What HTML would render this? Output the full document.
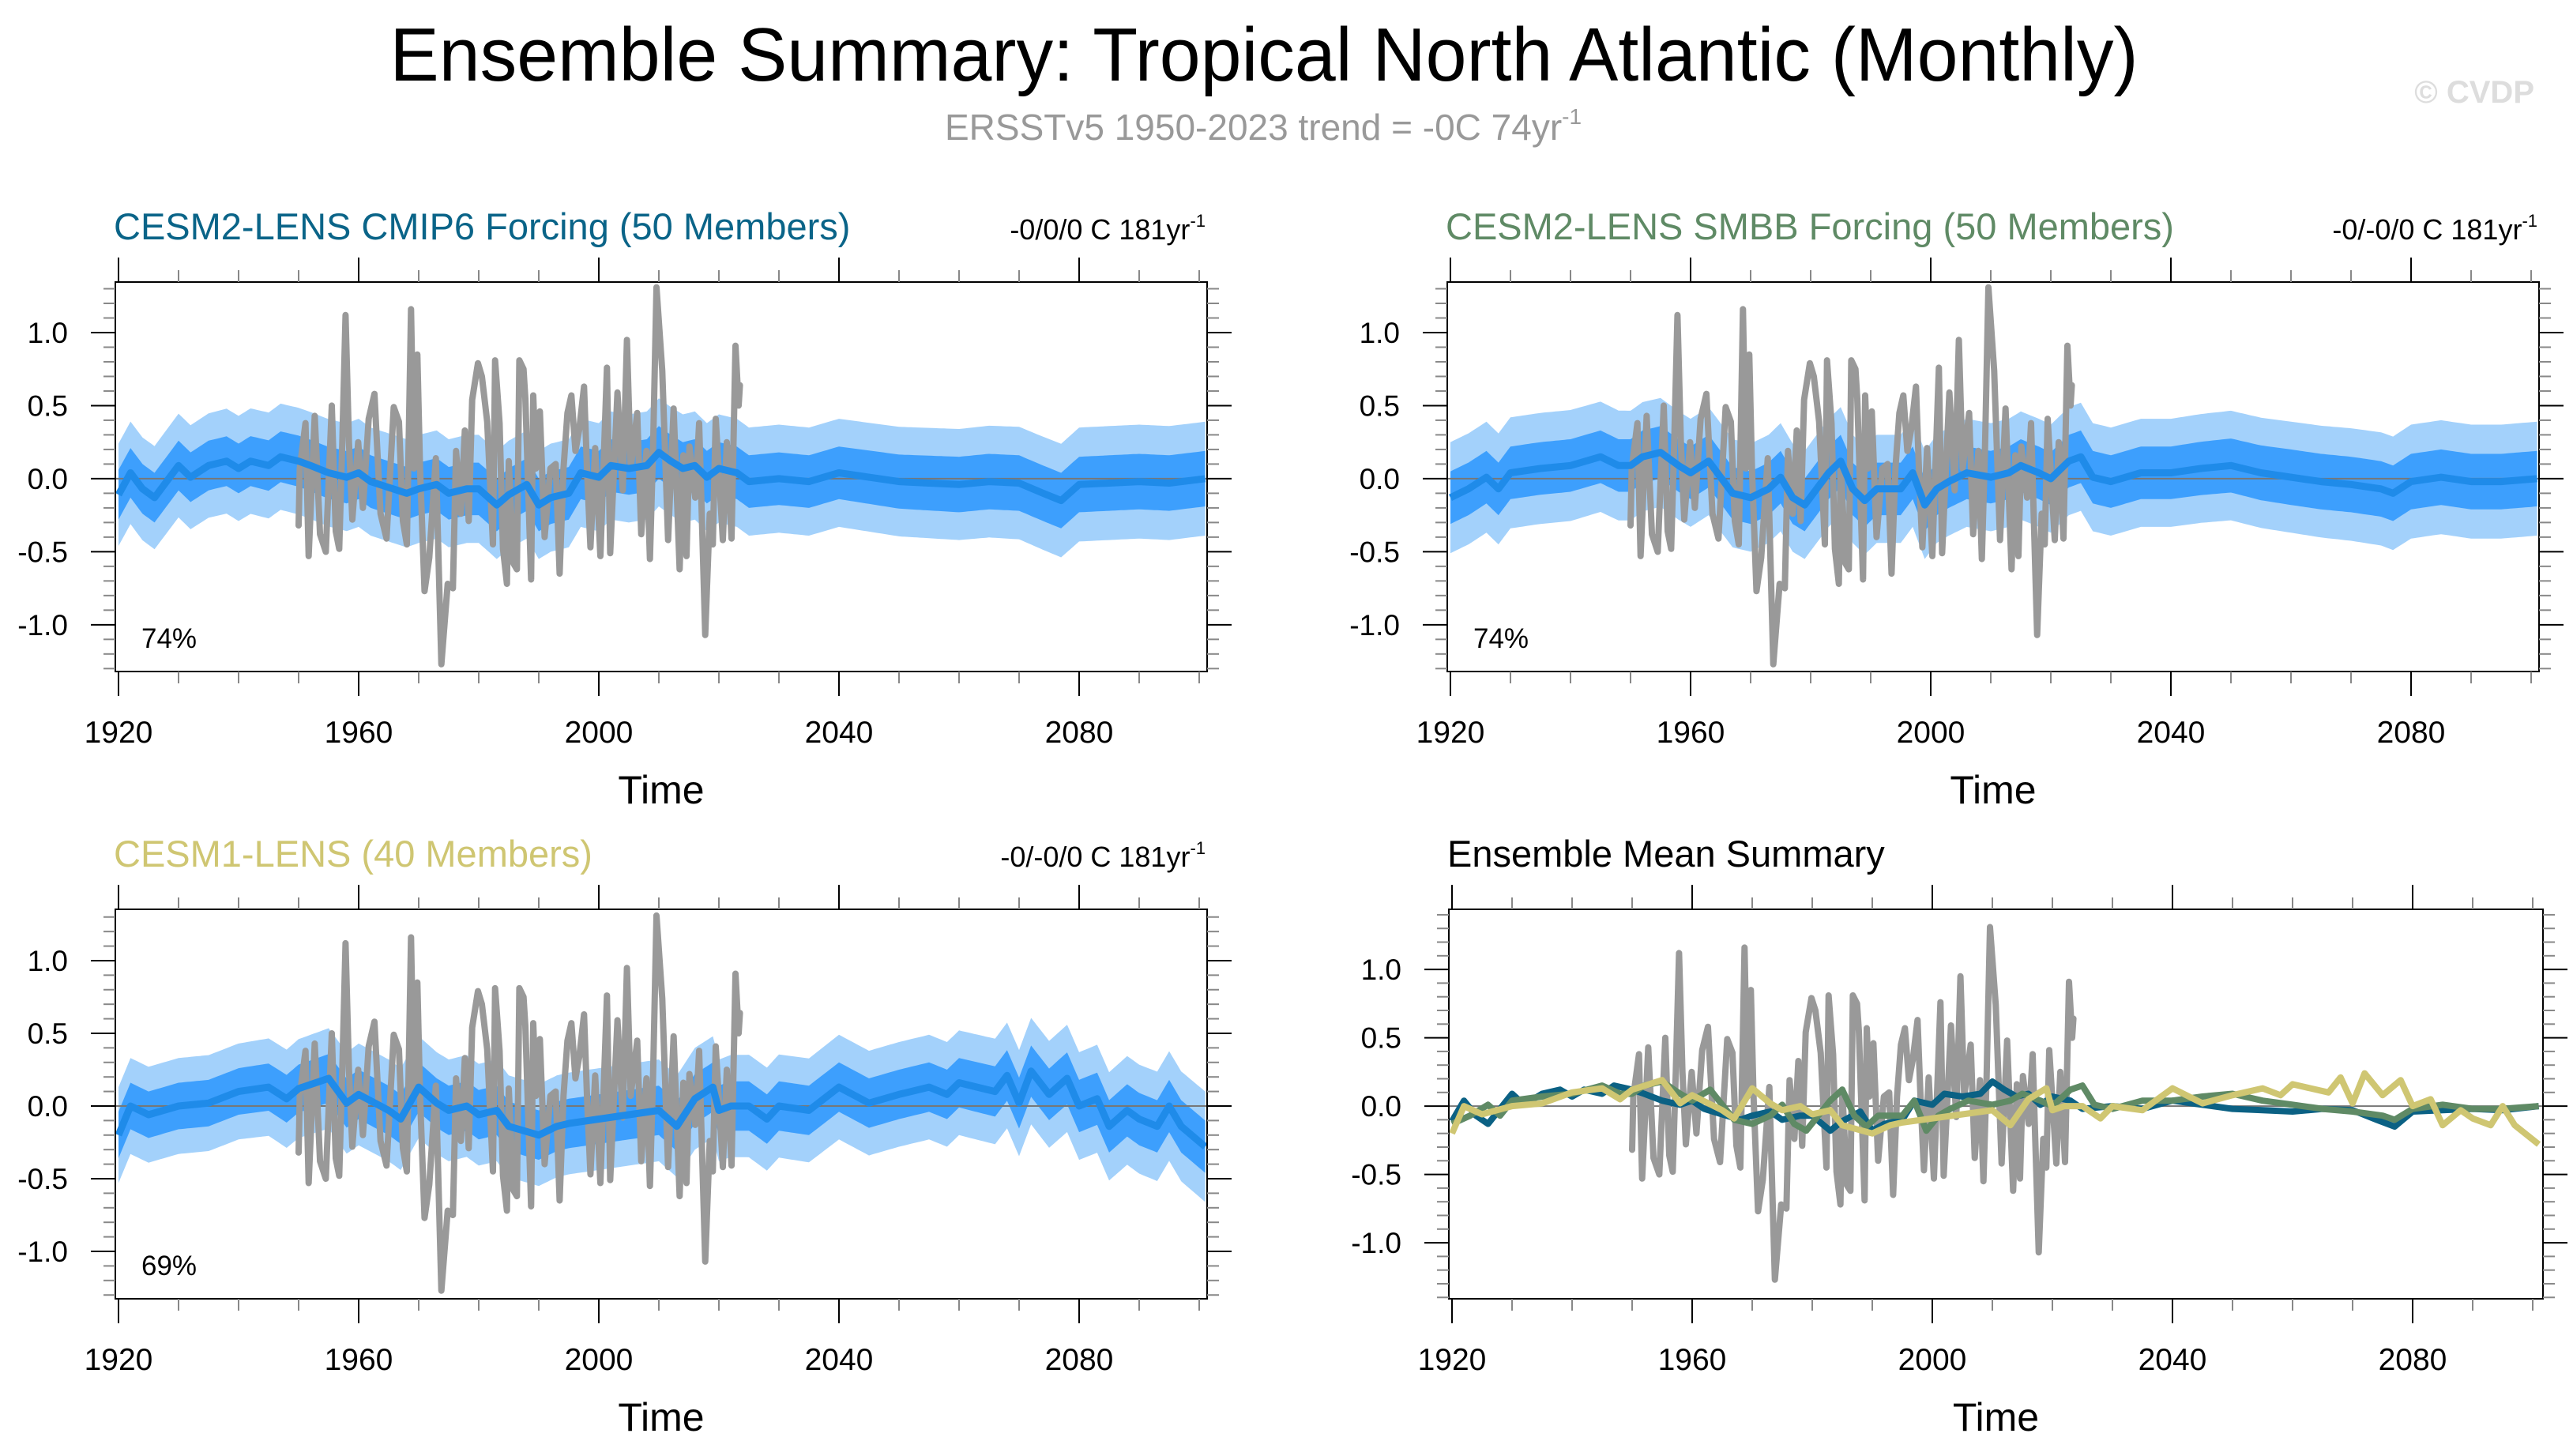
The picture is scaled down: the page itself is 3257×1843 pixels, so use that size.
<!DOCTYPE html>
<html><head><meta charset="utf-8"><title>Ensemble Summary: Tropical North Atlantic</title>
<style>html,body{margin:0;padding:0;background:#fff}svg{display:block}text{font-family:"Liberation Sans",Arial,sans-serif}</style>
</head><body>
<svg id="fig" xmlns="http://www.w3.org/2000/svg" width="3257" height="1843" viewBox="0 0 3257 1843">
<rect width="3257" height="1843" fill="#fff"/>
<text x="1600" y="102" font-size="96" text-anchor="middle" textLength="2213" lengthAdjust="spacingAndGlyphs">Ensemble Summary: Tropical North Atlantic (Monthly)</text>
<text x="1196" y="177" font-size="46" fill="#999">ERSSTv5 1950-2023 trend = -0C 74yr<tspan font-size="28" dy="-20">-1</tspan></text>
<text x="3208" y="130" font-size="40" font-weight="bold" fill="#ddd" text-anchor="end">© CVDP</text>
<g id="panels"></g>
</svg>
<script>
const obsYears=[1950.0,1950.2,1951.14,1951.67,1952.68,1953.56,1954.52,1955.53,1956.19,1956.76,1957.28,1957.81,1958.38,1958.95,1959.92,1960.71,1961.67,1962.63,1963.64,1964.65,1965.84,1966.71,1967.37,1968.03,1968.73,1969.21,1969.78,1970.22,1970.97,1971.76,1972.85,1973.78,1974.83,1975.70,1976.23,1977.02,1977.68,1978.33,1978.91,1979.87,1980.53,1981.41,1982.37,1982.72,1983.47,1984.04,1984.70,1985.0,1985.79,1986.36,1986.76,1987.46,1987.76,1988.73,1989.08,1989.52,1990.18,1990.97,1991.93,1992.81,1993.47,1994.12,1994.78,1995.44,1996.10,1996.75,1997.54,1998.07,1998.60,1999.39,2000.26,2001.36,2001.89,2003.11,2003.99,2004.69,2005.31,2006.40,2007.06,2007.94,2008.51,2009.04,2009.61,2010.57,2011.54,2012.46,2013.46,2014.08,2014.61,2015.09,2016.05,2016.71,2017.72,2018.47,2018.99,2019.47,2020.66,2021.32,2022.11,2022.76,2023.29,2023.5];
const obsVals=[-0.32,0.07,0.38,-0.53,0.43,-0.38,-0.50,0.50,-0.36,-0.48,0.25,1.12,0.25,-0.28,0.25,-0.20,0.41,0.58,-0.24,-0.41,0.49,0.39,-0.29,-0.45,1.16,0.07,0.85,0.07,-0.77,-0.54,0.14,-1.27,-0.72,-0.75,0.19,-0.24,0.33,-0.29,0.54,0.79,0.70,0.39,-0.45,0.81,0.38,-0.48,-0.72,0.12,-0.58,-0.62,0.81,0.75,0.55,-0.69,0.57,0.07,0.46,-0.40,0.07,0.10,-0.65,0.07,0.45,0.57,0.19,0.34,0.63,0.03,-0.47,0.21,-0.53,0.76,-0.51,0.59,-0.08,0.95,0.07,0.45,-0.38,0.19,-0.55,0.21,1.31,0.74,-0.42,0.48,-0.62,0.16,-0.53,0.22,-0.13,0.38,-1.07,-0.24,-0.45,0.41,-0.42,0.25,-0.41,0.91,0.50,0.64];

const cmipYears=[1920,1922,1924,1926,1928,1930,1932,1935,1938,1940,1942,1945,1947,1950,1952,1955,1958,1960,1962,1965,1968,1970,1973,1975,1978,1980,1983,1985,1988,1990,1992,1995,1997,2000,2002,2005,2008,2010,2012,2014,2016,2018,2020,2023,2025,2030,2035,2040,2045,2050,2055,2060,2065,2070,2074,2077,2080,2085,2090,2095,2101];
const cmipMean=[-0.11,0.04,-0.07,-0.13,-0.02,0.09,0.01,0.09,0.12,0.07,0.12,0.09,0.15,0.12,0.09,0.04,0.01,0.04,-0.02,-0.06,-0.10,-0.07,-0.04,-0.10,-0.07,-0.07,-0.18,-0.11,-0.04,-0.18,-0.13,-0.10,0.04,0.01,0.09,0.07,0.09,0.18,0.12,0.07,0.09,0.01,0.07,0.04,-0.02,0.0,-0.02,0.04,0.01,-0.02,-0.03,-0.04,-0.02,-0.03,-0.10,-0.15,-0.04,-0.03,-0.02,-0.03,0.0];
const smbbYears=[1920,1923,1926,1928,1930,1935,1940,1945,1948,1950,1952,1955,1958,1960,1963,1965,1967,1970,1973,1975,1977,1979,1981,1983,1985,1987,1989,1991,1995,1997,1999,2001,2003,2006,2010,2013,2015,2018,2020,2023,2025,2027,2030,2035,2040,2045,2050,2055,2060,2065,2070,2075,2077,2080,2085,2090,2095,2101];
const smbbMean=[-0.13,-0.07,0.01,-0.07,0.04,0.07,0.09,0.15,0.09,0.09,0.15,0.18,0.09,0.04,0.12,0.01,-0.10,-0.13,-0.07,0.01,-0.13,-0.18,-0.07,0.04,0.12,-0.07,-0.15,-0.07,-0.07,0.04,-0.18,-0.07,-0.02,0.04,0.01,0.04,0.09,0.04,0.0,0.12,0.15,0.01,-0.02,0.04,0.04,0.07,0.09,0.04,0.01,-0.02,-0.04,-0.07,-0.10,-0.02,0.01,-0.02,-0.02,0.0];
const cesm1Years=[1920,1922,1925,1930,1935,1940,1945,1948,1950,1955,1958,1960,1965,1967,1970,1973,1975,1978,1980,1983,1985,1990,1993,1995,2000,2005,2010,2013,2016,2019,2020,2022,2025,2028,2030,2035,2040,2045,2050,2055,2058,2060,2063,2066,2068,2070,2072,2075,2078,2080,2083,2085,2088,2090,2093,2095,2097,2101];
const cesm1Mean=[-0.20,0.0,-0.06,0.0,0.02,0.10,0.13,0.05,0.12,0.19,0.02,0.08,-0.03,-0.09,0.13,0.02,-0.03,0.0,-0.06,-0.03,-0.14,-0.20,-0.14,-0.12,-0.09,-0.06,-0.03,-0.14,0.05,0.13,-0.03,0.0,0.0,-0.09,0.0,-0.03,0.13,0.02,0.08,0.13,0.08,0.16,0.13,0.10,0.21,0.02,0.24,0.08,0.19,0.0,0.05,-0.14,-0.03,-0.09,-0.14,0.0,-0.14,-0.28];

const spreadYears=[1920,1940,1960,1980,2000,2020,2040,2060,2080,2101];
const cmipLight=[0.35,0.36,0.37,0.37,0.37,0.37,0.37,0.38,0.39,0.39];
const cmipDark=[0.17,0.17,0.18,0.18,0.18,0.18,0.18,0.19,0.19,0.19];
const smbbLight=[0.38,0.38,0.37,0.37,0.37,0.37,0.37,0.38,0.39,0.39];
const smbbDark=[0.18,0.18,0.18,0.18,0.18,0.18,0.18,0.19,0.19,0.19];
const cesm1Light=[0.33,0.33,0.35,0.35,0.35,0.35,0.36,0.36,0.37,0.38];
const cesm1Dark=[0.16,0.16,0.17,0.17,0.17,0.17,0.17,0.17,0.18,0.18];

const xTickYears=[1920,1960,2000,2040,2080];
const yTickVals=[-1,-0.5,0,0.5,1];
const yTickLabels=["-1.0","-0.5","0.0","0.5","1.0"];

const NS="http://www.w3.org/2000/svg";
const root=document.getElementById('panels');
function mk(tag,attrs,parent){const e=document.createElementNS(NS,tag);for(const k in attrs)e.setAttribute(k,attrs[k]);(parent||root).appendChild(e);return e;}
function interp(xs,vs,x){if(x<=xs[0])return vs[0];for(let i=1;i<xs.length;i++){if(x<=xs[i]){const t=(x-xs[i-1])/(xs[i]-xs[i-1]);return vs[i-1]+t*(vs[i]-vs[i-1]);}}return vs[vs.length-1];}

function panel(cfg){
  const g=mk('g',{});
  
  
  const X=y=>cfg.x0+4+(y-1920)*7.6;
  const Y=v=>cfg.y0+(cfg.ymax-v)/(cfg.ymax-cfg.ymin)*cfg.h;
  const clipId='clip-'+cfg.name;
  const cp=mk('clipPath',{id:clipId},g);
  mk('rect',{x:cfg.x0,y:cfg.y0,width:cfg.w,height:cfg.h},cp);
  const plot=mk('g',{'clip-path':'url(#'+clipId+')'},g);
  (cfg.models||[]).forEach(m=>{
    if(!m.light) return;
    const up=[],lo=[],upd=[],lod=[];
    for(let yr=1920;yr<=2101;yr+=0.5){
      const mu=interp(m.years,m.mean,yr);
      const L=interp(spreadYears,m.light,yr), D=interp(spreadYears,m.dark,yr);
      up.push(X(yr).toFixed(1)+','+Y(mu+L).toFixed(1));
      lo.unshift(X(yr).toFixed(1)+','+Y(mu-L).toFixed(1));
      upd.push(X(yr).toFixed(1)+','+Y(mu+D).toFixed(1));
      lod.unshift(X(yr).toFixed(1)+','+Y(mu-D).toFixed(1));
    }
    const b1=mk('polygon',{points:up.concat(lo).join(' '),fill:'#a3d1fb'},plot);
    
    
    const b2=mk('polygon',{points:upd.concat(lod).join(' '),fill:'#3d9ffd'},plot);
    
    
  });
  const z=mk('line',{x1:cfg.x0,x2:cfg.x0+cfg.w,y1:Y(0),y2:Y(0),stroke:'#777',"stroke-width":2},plot);
  
  
  const op=obsYears.map((yr,i)=>X(yr).toFixed(1)+','+Y(obsVals[i]).toFixed(1)).join(' ');
  const ol=mk('polyline',{points:op,fill:'none',stroke:'#999',"stroke-width":8,"stroke-linejoin":"round","stroke-linecap":"round"},plot);
  
  
  (cfg.models||[]).forEach(m=>{
    const pts=m.years.map((yr,i)=>X(yr).toFixed(1)+','+Y(m.mean[i]).toFixed(1)).join(' ');
    const l=mk('polyline',{points:pts,fill:'none',stroke:m.color,"stroke-width":m.lw,"stroke-linejoin":"round"},plot);
    
    
  });
  const bx=mk('rect',{x:cfg.x0,y:cfg.y0,width:cfg.w,height:cfg.h,fill:'none',stroke:'#000',"stroke-width":2},g);
  
  
  for(let yr=1920;yr<=2100;yr+=10){
    const major=(yr-1920)%40===0, len=major?31:15, x=X(yr);
    const c=major?'#000':'#888';
    mk('line',{x1:x,x2:x,y1:cfg.y0,y2:cfg.y0-len,stroke:c,"stroke-width":2},g);
    mk('line',{x1:x,x2:x,y1:cfg.y0+cfg.h,y2:cfg.y0+cfg.h+len,stroke:c,"stroke-width":2},g);
  }
  xTickYears.forEach(yr=>{
    const t=mk('text',{x:X(yr),y:cfg.y0+cfg.h+90,"font-size":39,"text-anchor":"middle"},g);
    t.textContent=String(yr);
    
    
  });
  for(let k=Math.ceil(cfg.ymin*10);k<=Math.floor(cfg.ymax*10);k++){
    const v=k/10, y=Y(v), major=(k%5===0), len=major?31:15, c=major?'#000':'#888';
    mk('line',{x1:cfg.x0,x2:cfg.x0-len,y1:y,y2:y,stroke:c,"stroke-width":2},g);
    mk('line',{x1:cfg.x0+cfg.w,x2:cfg.x0+cfg.w+len,y1:y,y2:y,stroke:c,"stroke-width":2},g);
  }
  yTickVals.forEach((v,i)=>{
    const t=mk('text',{x:cfg.x0-60,y:Y(v)+13,"font-size":37,"text-anchor":"end"},g);
    t.textContent=yTickLabels[i];
    
    
  });
  const xt=mk('text',{x:cfg.x0+cfg.w/2,y:cfg.y0+cfg.h+167,"font-size":50,"text-anchor":"middle"},g);
  xt.textContent='Time';
  
  
  const tt=mk('text',{x:cfg.x0-2,y:cfg.y0-54,"font-size":47,fill:cfg.tcolor},g);
  tt.textContent=cfg.title;
  
  
  if(cfg.trend){
    const tr=mk('text',{x:cfg.x0+cfg.w-2,y:cfg.y0-54,"font-size":36,"text-anchor":"end"},g);
    tr.appendChild(document.createTextNode(cfg.trend+'yr'));
    const s=mk('tspan',{"font-size":22,dy:-16},tr);
    s.textContent='-1';
    
    
  }
  if(cfg.pct){
    const p=mk('text',{x:cfg.x0+33,y:cfg.y0+463,"font-size":35},g);
    p.textContent=cfg.pct;
    
    
  }
}

const BLUE='#1f8be9';
panel({name:'panel-cesm2-cmip6',x0:146,y0:357,w:1382,h:493,ymin:-1.32,ymax:1.346,title:'CESM2-LENS CMIP6 Forcing (50 Members)',tcolor:'#0a6488',trend:'-0/0/0 C 181',pct:'74%',
  models:[{years:cmipYears,mean:cmipMean,light:cmipLight,dark:cmipDark,color:BLUE,lw:9,lname:'ensemble-mean-line'}]});
panel({name:'panel-cesm2-smbb',x0:1832,y0:357,w:1382,h:493,ymin:-1.32,ymax:1.346,title:'CESM2-LENS SMBB Forcing (50 Members)',tcolor:'#5f8a65',trend:'-0/-0/0 C 181',pct:'74%',
  models:[{years:smbbYears,mean:smbbMean,light:smbbLight,dark:smbbDark,color:BLUE,lw:9,lname:'ensemble-mean-line'}]});
panel({name:'panel-cesm1',x0:146,y0:1151,w:1382,h:493,ymin:-1.326,ymax:1.353,title:'CESM1-LENS (40 Members)',tcolor:'#cfc672',trend:'-0/-0/0 C 181',pct:'69%',
  models:[{years:cesm1Years,mean:cesm1Mean,light:cesm1Light,dark:cesm1Dark,color:BLUE,lw:9,lname:'ensemble-mean-line'}]});
panel({name:'panel-ensemble-mean-summary',x0:1834,y0:1151,w:1385,h:493,ymin:-1.41,ymax:1.44,title:'Ensemble Mean Summary',tcolor:'#000',
  models:[
    {years:cmipYears,mean:cmipMean,color:'#0b6184',lw:8,lname:'cmip6-mean-line'},
    {years:smbbYears,mean:smbbMean,color:'#5f8a65',lw:8,lname:'smbb-mean-line'},
    {years:cesm1Years,mean:cesm1Mean,color:'#cfc672',lw:8,lname:'cesm1-mean-line'}]});
</script>
</body></html>
